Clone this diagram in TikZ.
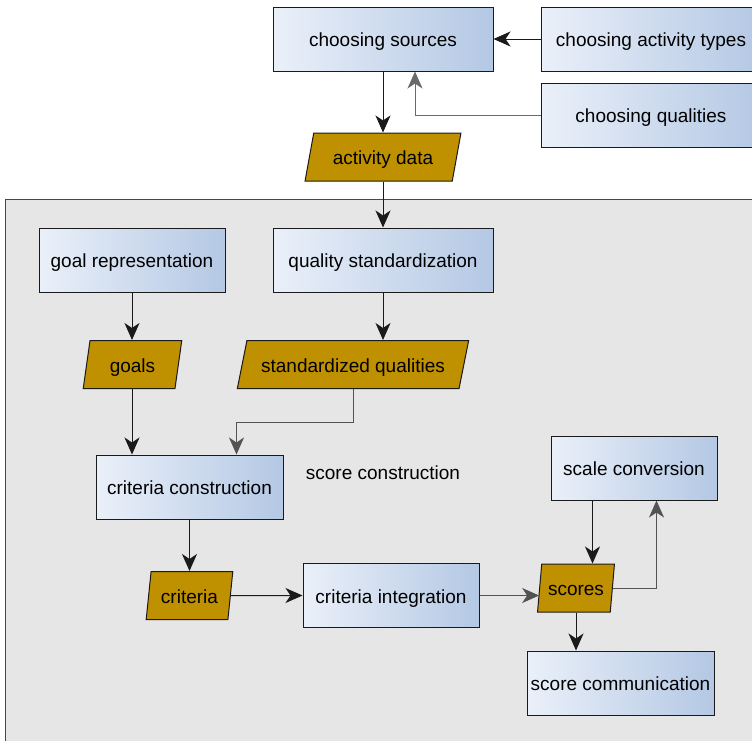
\documentclass[tikz,border=0pt]{standalone}
\usepackage{fontspec}
\setmainfont{Liberation Sans}
\usetikzlibrary{shapes.geometric,arrows.meta}
\definecolor{boxL}{HTML}{EAF0F9}
\definecolor{boxR}{HTML}{B4C8E4}
\definecolor{gold}{HTML}{BF9000}
\definecolor{panel}{HTML}{E6E6E6}
\definecolor{edge}{HTML}{1A1A1A}
\begin{document}
\begin{tikzpicture}[x=1pt,y=-1pt,
  every node/.style={font=\fontsize{19}{23}\selectfont, text=black, text height=18pt, text depth=2.6pt},
  procbox/.style={rectangle, draw=edge, line width=1pt, left color=boxL, right color=boxR, minimum width=#1, minimum height=64pt, inner sep=0pt},
  para/.style={trapezium, trapezium stretches=true, draw=edge, line width=1pt, fill=gold, minimum height=48pt, inner sep=0pt, trapezium left angle=#1, trapezium right angle={180-#1}},
  arr/.style={draw=edge, line width=1pt, -{Stealth[length=17pt,width=15pt,inset=5pt]}}
]
\useasboundingbox (0,0) rectangle (752,740);
\clip (0,0) rectangle (752,740);
\fill[white] (0,0) rectangle (752,740);
% panel
\draw[draw=edge!80, fill=panel, line width=1pt] (5,199) rectangle (770,760);
\node (sclabel) at (383,472) {score construction};

% nodes
\node[procbox=220pt] (src) at (383,39) {choosing sources};
\node[procbox=220pt] (types) at (651,39) {choosing activity types};
\node[procbox=220pt] (quals) at (651,115) {choosing qualities};
\node[para=73, minimum width=156pt] (ad) at (383,157) {activity data};
\node[procbox=186pt] (goalrep) at (132,260) {goal representation};
\node[procbox=220pt] (qstd) at (383,260) {quality standardization};
\node[para=80, minimum width=99pt] (goals) at (132.5,364.5) {goals};
\node[para=68, minimum width=232pt] (stdq) at (353,364.5) {standardized qualities};
\node[procbox=187pt] (cc) at (189.5,487) {criteria construction};
\node[para=80, minimum width=87pt] (crit) at (189.5,595.5) {criteria};
\node[procbox=176pt] (ci) at (391,595.5) {criteria integration};
\node[para=80.5, minimum width=77pt] (scores) at (576,588) {scores};
\node[procbox=166pt] (sc) at (634,468) {scale conversion};
\node[procbox=187pt] (comm) at (620.5,683) {score communication};

% connectors
\draw[arr] (types.west) -- (src.east);
\draw[arr, draw=edge!65] (quals.west) -| ([xshift=32pt]src.south);
\draw[arr] (src.south) -- (src.south |- ad.north);
\draw[arr] (ad.south) -- (ad.south |- qstd.north);
\draw[arr] (goalrep.south) -- (goalrep.south |- goals.north);
\draw[arr] (qstd.south) -- (qstd.south |- stdq.north);
\draw[arr] (goalrep.south |- goals.south) -- (goalrep.south |- cc.north);
\draw[arr, draw=edge!75] (stdq.south) -- ++(0,33.5) -| ([xshift=47pt]cc.north);
\draw[arr] (cc.south) -- (cc.south |- crit.north);
\draw[arr] (crit.east) -- (ci.west);
\draw[arr, draw=edge!75] (ci.east) -- (scores.west |- ci.east);
\draw[arr] ([xshift=-41.5pt]sc.south) -- ([xshift=-41.5pt]sc.south |- scores.north);
\draw[arr, draw=edge!75] (scores.east) -| ([xshift=22.5pt]sc.south);
\draw[arr] (scores.south) -- (scores.south |- comm.north);
\end{tikzpicture}
\end{document}
